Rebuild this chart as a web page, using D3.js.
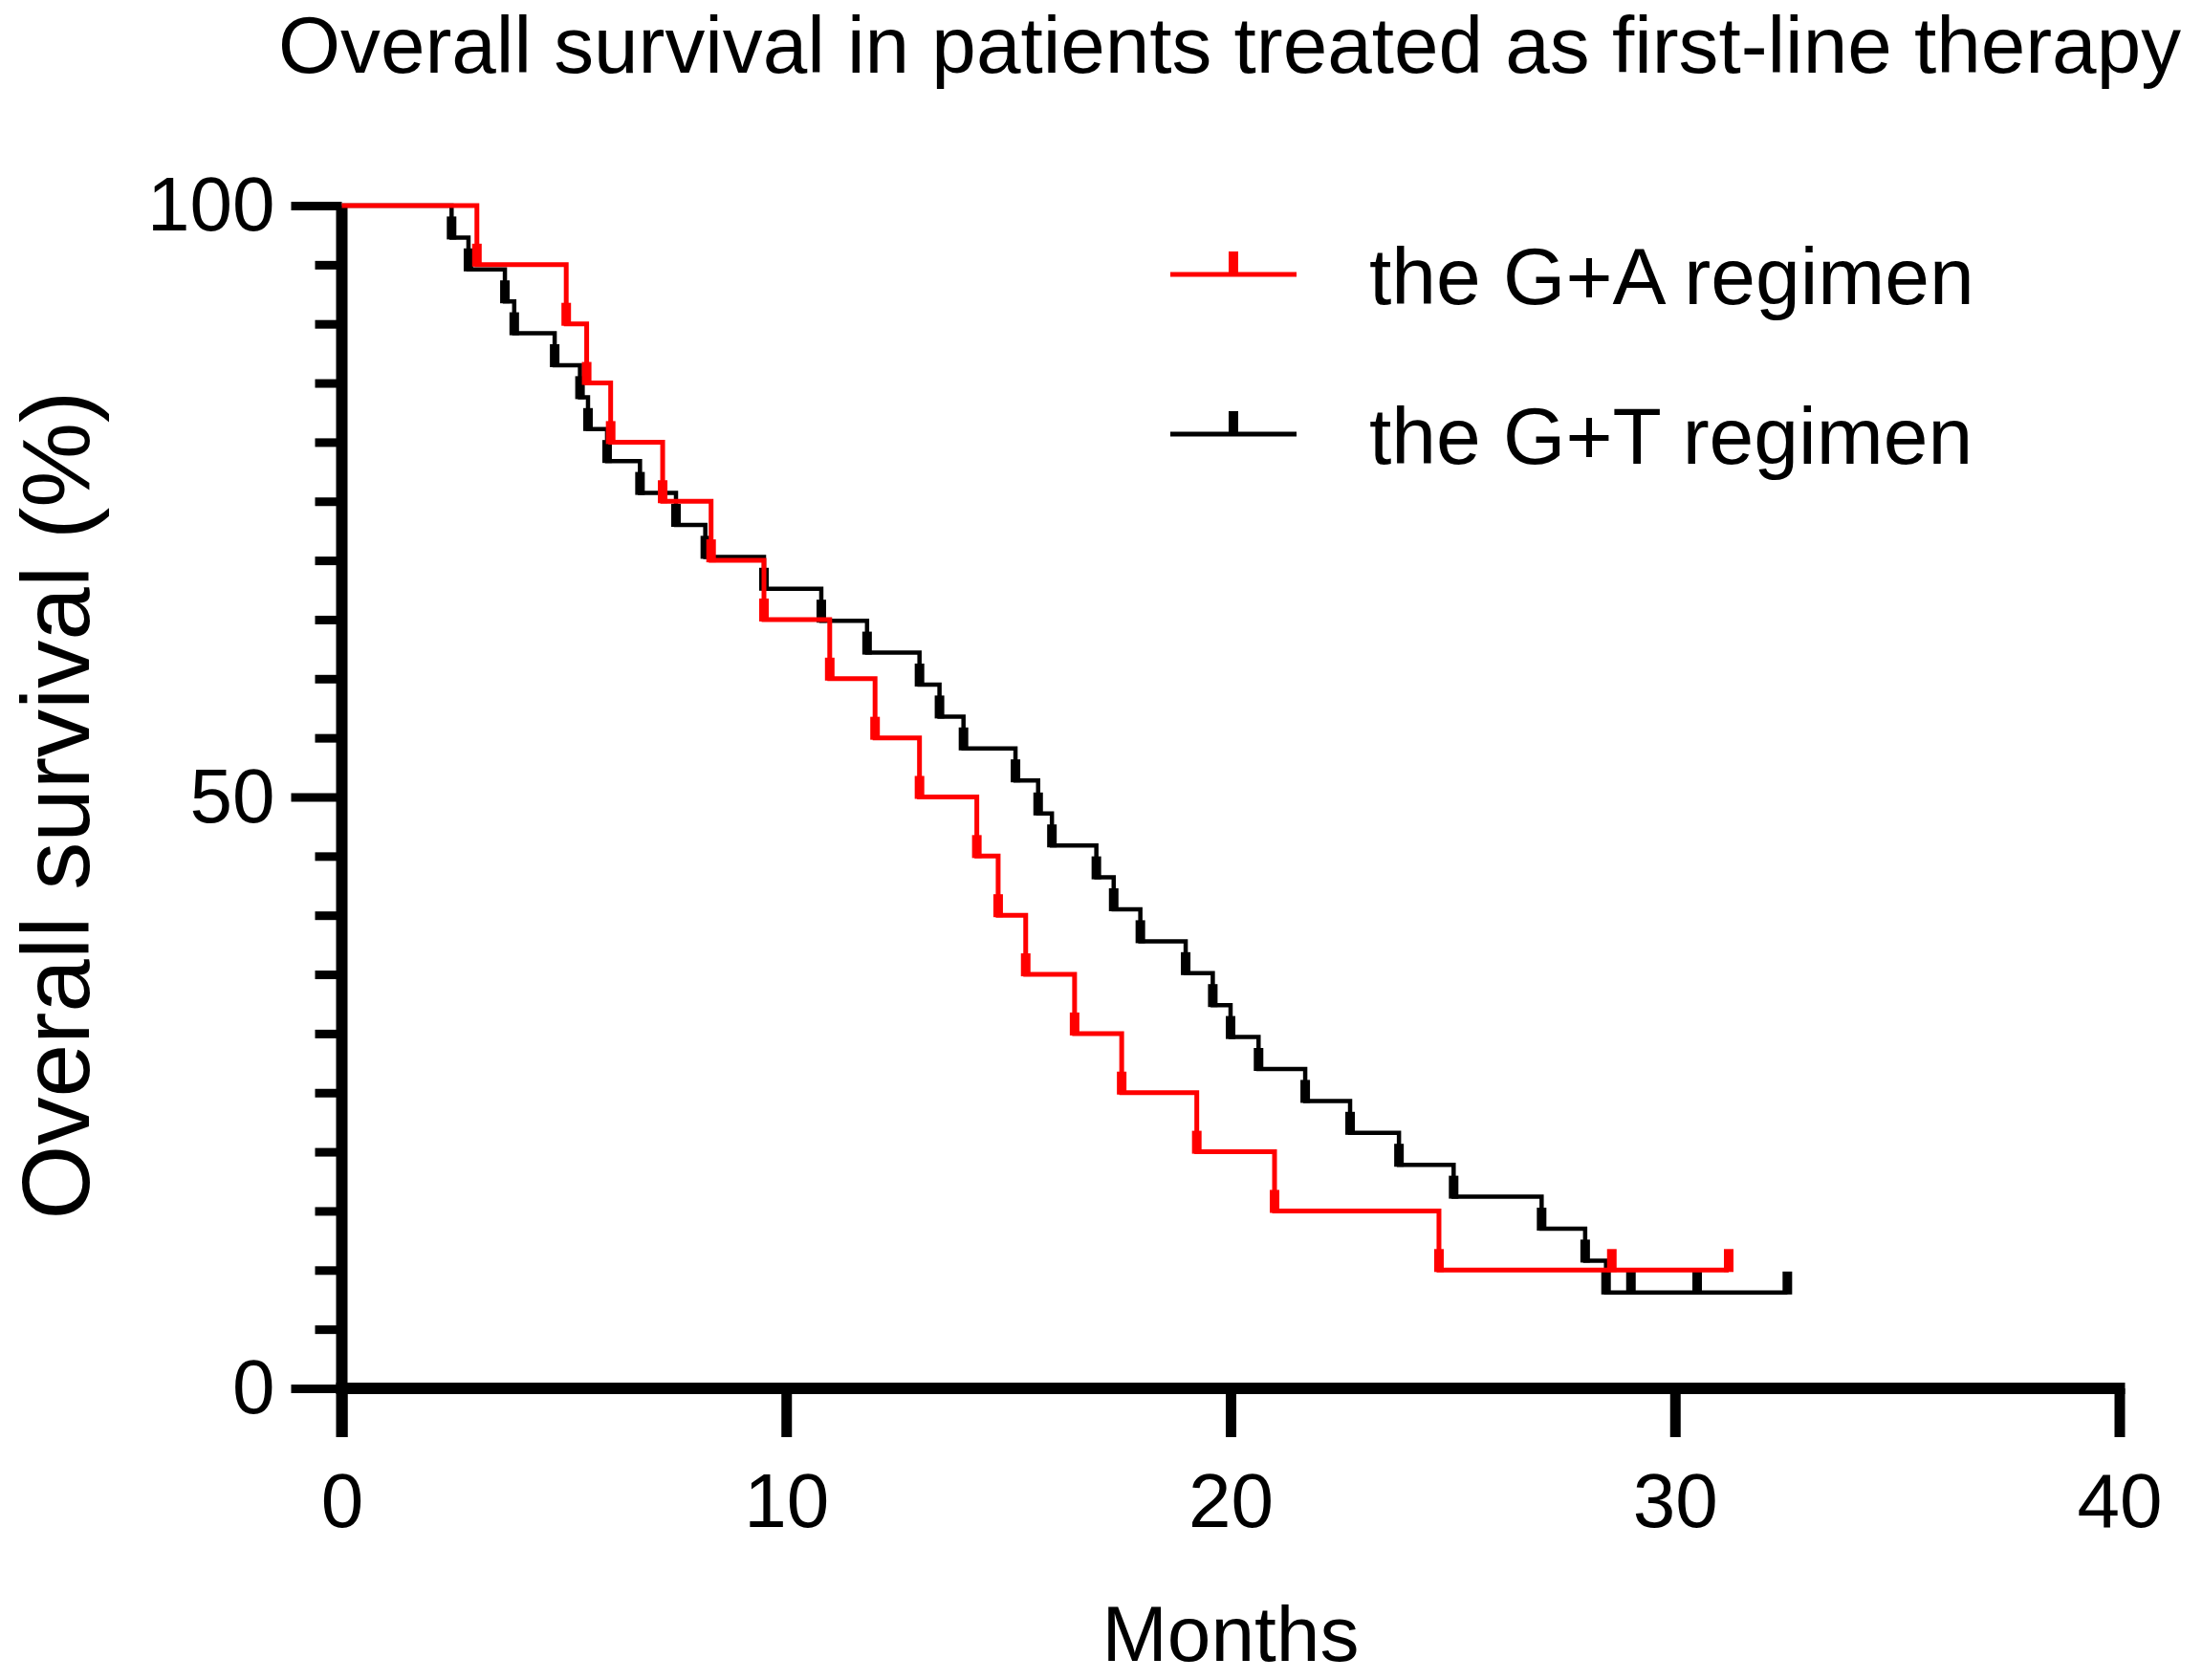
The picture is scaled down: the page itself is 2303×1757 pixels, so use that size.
<!DOCTYPE html>
<html>
<head>
<meta charset="utf-8">
<script src="https://cdn.jsdelivr.net/npm/d3@7"></script>
<style>
  html, body { margin: 0; padding: 0; background: #fff; }
  svg { display: block; }
  text { font-family: "Liberation Sans", Arial, Helvetica, sans-serif; fill: #000; }
</style>
</head>
<body>
<svg id="chart" width="2303" height="1757"></svg>
<script>
// ---- data ----
const titleText = "Overall survival in patients treated as first-line therapy";
const xLabel = "Months";
const yLabel = "Overall survival (%)";
const seriesNames = ["the G+A regimen", "the G+T regimen"];
const seriesColors = ["#ff0000", "#000000"];

const xTicks = [0, 10, 20, 30, 40];
const yMajorTicks = [0, 50, 100];
const yMinorTicks = [5, 10, 15, 20, 25, 30, 35, 40, 45, 55, 60, 65, 70, 75, 80, 85, 90, 95];

// G+A regimen: event times (months) and survival (%) after each drop
const gaTimes = [3.04, 5.05, 5.51, 6.05, 7.22, 8.31, 9.50, 10.98, 12.0, 13.0, 14.29, 14.77, 15.39, 16.49, 17.55, 19.24, 20.99, 24.69];
const gaSurv  = [95, 90, 85, 80, 75, 70, 65, 60, 55, 50, 45, 40, 35, 30, 25, 20, 15, 10];
const gaCensor = [28.58, 31.21];

// G+T regimen
const gtTimes = [2.47, 2.85, 3.67, 3.88, 4.79, 5.36, 5.54, 5.97, 6.71, 7.52, 8.18, 9.50, 10.79, 11.82, 13.0, 13.45, 13.99, 15.16, 15.67, 15.98, 16.98, 17.37, 17.97, 18.99, 19.60, 20.0, 20.63, 21.68, 22.69, 23.79, 25.02, 27.0, 27.98, 28.45];
const gtSurv  = [97.3, 94.6, 91.9, 89.2, 86.5, 83.8, 81.1, 78.4, 75.7, 73.0, 70.3, 67.6, 64.9, 62.2, 59.5, 56.8, 54.1, 51.4, 48.6, 45.9, 43.2, 40.5, 37.8, 35.1, 32.4, 29.7, 27.0, 24.3, 21.6, 18.9, 16.2, 13.5, 10.8, 8.1];
const gtCensor = [29.01, 30.50, 32.53];

// ---- layout ----
const svg = d3.select("#chart");
svg.append("rect").attr("width", 2303).attr("height", 1757).attr("fill", "#fff");

const x = d3.scaleLinear().domain([0, 40]).range([357.5, 2216.5]);
const y = d3.scaleLinear().domain([0, 100]).range([1452, 215]);

const axisW = 12, tickW = 11;
const FONT = '"Liberation Sans", Arial, sans-serif';

// title
svg.append("text")
  .attr("x", 291).attr("y", 76)
  .attr("font-size", 84)
  .attr("textLength", 1990).attr("lengthAdjust", "spacingAndGlyphs")
  .text(titleText);

// y axis: minor ticks
const yMinor = svg.append("g").attr("transform", `translate(${x(0)},0)`)
  .call(d3.axisLeft(y).tickValues(yMinorTicks).tickSize(28).tickSizeOuter(0).tickFormat(""));
yMinor.select(".domain").remove();
yMinor.selectAll(".tick line").attr("stroke", "#000").attr("stroke-width", tickW - 2);

// y axis: major ticks with labels
const yMajor = svg.append("g").attr("transform", `translate(${x(0)},0)`)
  .call(d3.axisLeft(y).tickValues(yMajorTicks).tickSize(53).tickPadding(17).tickSizeOuter(0).tickFormat(d3.format("d")));
yMajor.select(".domain").remove();
yMajor.selectAll(".tick line").attr("stroke", "#000").attr("stroke-width", tickW - 2);
yMajor.selectAll(".tick text").attr("font-size", 80).attr("font-family", FONT).attr("fill", "#000");

// x axis ticks and labels
const xAx = svg.append("g").attr("transform", `translate(0,${y(0)})`)
  .call(d3.axisBottom(x).tickValues(xTicks).tickSize(51).tickPadding(37).tickSizeOuter(0).tickFormat(d3.format("d")));
xAx.select(".domain").remove();
xAx.selectAll(".tick line").attr("stroke", "#000").attr("stroke-width", tickW);
xAx.selectAll(".tick text").attr("font-size", 80).attr("font-family", FONT).attr("fill", "#000");

// axis lines
svg.append("line")
  .attr("x1", x(0)).attr("x2", x(0))
  .attr("y1", y(100)).attr("y2", y(0) + 51)
  .attr("stroke", "#000").attr("stroke-width", axisW);
svg.append("line")
  .attr("x1", x(0) - axisW / 2).attr("x2", x(40) + axisW / 2)
  .attr("y1", y(0)).attr("y2", y(0))
  .attr("stroke", "#000").attr("stroke-width", axisW);

// axis titles
svg.append("text")
  .attr("transform", `translate(93, 842) rotate(-90)`)
  .attr("text-anchor", "middle")
  .attr("font-size", 100)
  .text(yLabel);
svg.append("text")
  .attr("x", (x(0) + x(40)) / 2).attr("y", 1737)
  .attr("text-anchor", "middle")
  .attr("font-size", 82)
  .text(xLabel);

// ---- survival curves ----
const line = d3.line().x(d => x(d[0])).y(d => y(d[1])).curve(d3.curveStepAfter);

function buildSteps(times, surv, censor) {
  const pts = [[0, 100]];
  times.forEach((t, i) => pts.push([t, surv[i]]));
  const endT = d3.max(censor.concat(times));
  pts.push([endT, surv[surv.length - 1]]);
  return pts;
}
function survAt(times, surv, t) {
  let s = 100;
  times.forEach((tt, i) => { if (tt <= t) s = surv[i]; });
  return s;
}

function drawSeries(times, surv, censor, color, width) {
  const g = svg.append("g");
  g.append("path")
    .attr("d", line(buildSteps(times, surv, censor)))
    .attr("fill", "none").attr("stroke", color)
    .attr("stroke-width", width).attr("stroke-linejoin", "miter");
  const marks = times.map((t, i) => [t, surv[i]])
    .concat(censor.map(t => [t, survAt(times, surv, t)]));
  g.selectAll("rect.mark").data(marks).enter().append("rect")
    .attr("class", "mark")
    .attr("x", d => x(d[0]) - 5)
    .attr("y", d => y(d[1]) - 22)
    .attr("width", 10).attr("height", 24)
    .attr("fill", color);
}

drawSeries(gtTimes, gtSurv, gtCensor, seriesColors[1], 4.5);
drawSeries(gaTimes, gaSurv, gaCensor, seriesColors[0], 5);

// ---- legend ----
const legendY = [287, 454];
seriesNames.forEach((name, i) => {
  const g = svg.append("g");
  g.append("line")
    .attr("x1", 1224).attr("x2", 1356)
    .attr("y1", legendY[i]).attr("y2", legendY[i])
    .attr("stroke", seriesColors[i]).attr("stroke-width", 5);
  g.append("rect")
    .attr("x", 1290 - 5).attr("y", legendY[i] - 24)
    .attr("width", 10).attr("height", 24)
    .attr("fill", seriesColors[i]);
  g.append("text")
    .attr("x", 1432).attr("y", legendY[i] + 31)
    .attr("font-size", 84)
    .text(name);
});
</script>
</body>
</html>
